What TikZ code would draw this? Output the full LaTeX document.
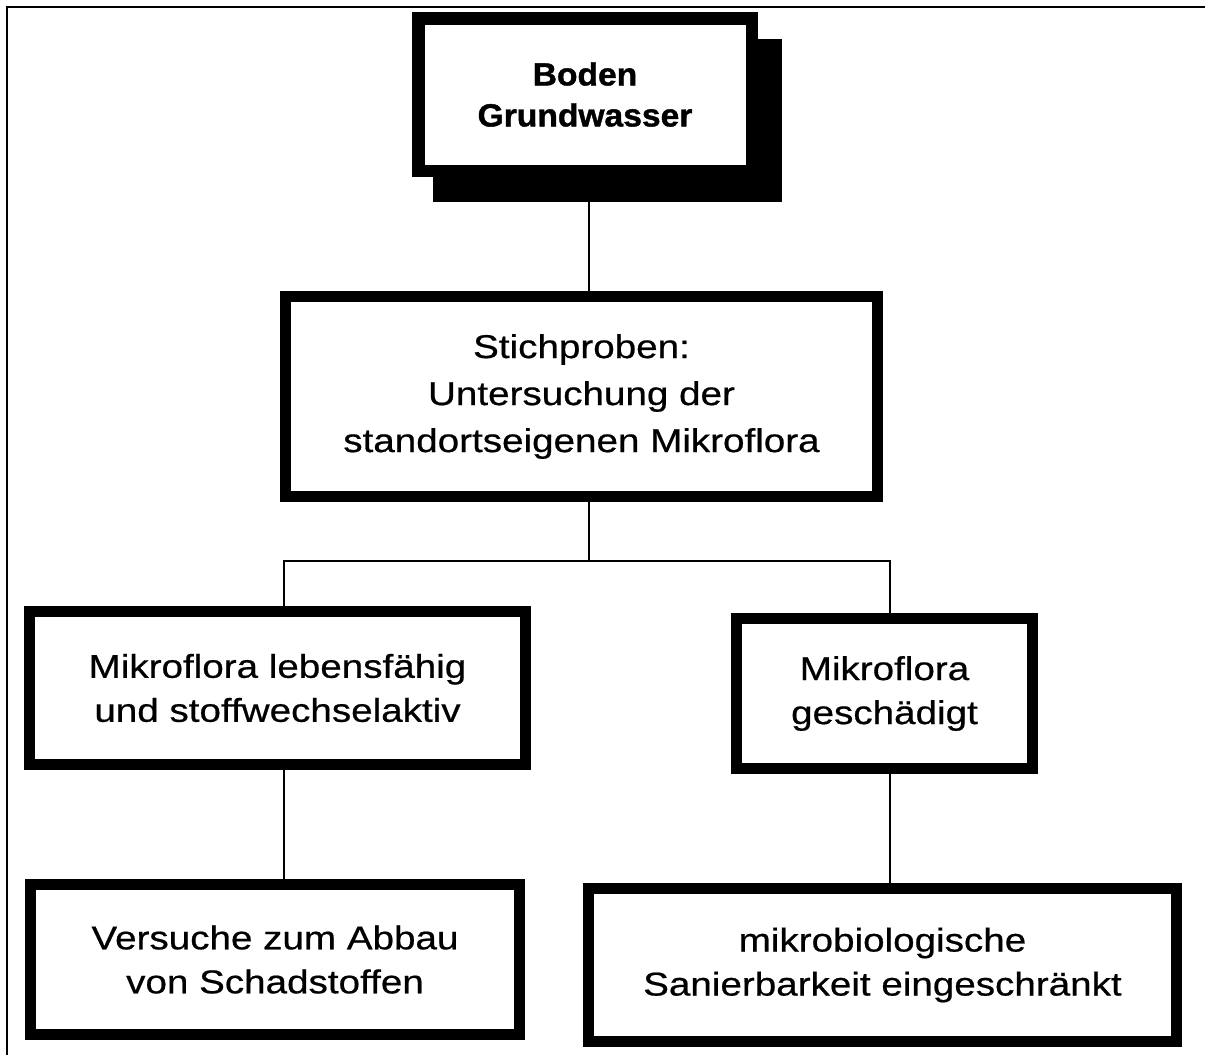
\documentclass[tikz,border=0pt]{standalone}
\usepackage{fontspec}
\setmainfont{Liberation Sans}[FakeStretch=1.17,FakeBold=0.6]
\newfontfamily\bldfont{Liberation Sans}[FakeStretch=1.05,FakeBold=1.2]
\begin{document}
\begin{tikzpicture}[x=1pt,y=-1pt,
  box/.style={draw=black, line width=11pt, fill=white, align=center, inner sep=0pt,
    font=\fontsize{33}{44}\selectfont},
  topbox/.style={box, line width=12.5pt, font=\bldfont\bfseries\fontsize{32}{41}\selectfont},
  shadowbox/.style={fill=black, draw=none, inner sep=0pt, outer sep=0pt},
  conn/.style={line width=1.8pt},
  frame/.style={line width=2.8pt}
]
\useasboundingbox (0,0) rectangle (1205,1055);
\draw[frame] (7,1055) -- (7,7) -- (1205,7);

\coordinate (trunk) at (589,0);
\coordinate (lx) at (284,0);
\coordinate (rx) at (890,0);
\coordinate (bus) at (0,561);

% nodes
\node[shadowbox, minimum width=349pt, minimum height=163pt] (topshadow) at (607.5,120.5) {};
\node[topbox, minimum width=333.5pt, minimum height=152.5pt] (top) at (585,94.5) {Boden\\Grundwasser};
\node[box, minimum width=592pt, minimum height=200pt, font=\fontsize{33}{47}\selectfont] (stich) at (581.5,396.5)
  {Stichproben:\\Untersuchung der\\standortseigenen Mikroflora};
\node[box, minimum width=496pt, minimum height=153pt] (lmid) at (277.5,688)
  {Mikroflora lebensfähig\\und stoffwechselaktiv};
\node[box, minimum width=296pt, minimum height=150pt] (rmid) at (884.5,693.5)
  {Mikroflora\\geschädigt};
\node[box, minimum width=489pt, minimum height=150pt] (blft) at (275,959.5)
  {Versuche zum Abbau\\von Schadstoffen};
\node[box, minimum width=588pt, minimum height=153pt] (brgt) at (882.5,965)
  {mikrobiologische\\Sanierbarkeit eingeschränkt};

% connectors
\draw[conn] (topshadow.south -| trunk) -- (stich.north -| trunk);
\draw[conn] (stich.south -| trunk) -- (bus -| trunk);
\draw[conn] (lmid.north -| lx) -- (bus -| lx) -- (bus -| rx) -- (rmid.north -| rx);
\draw[conn] (lmid.south -| lx) -- (blft.north -| lx);
\draw[conn] (rmid.south -| rx) -- (brgt.north -| rx);
\end{tikzpicture}
\end{document}
